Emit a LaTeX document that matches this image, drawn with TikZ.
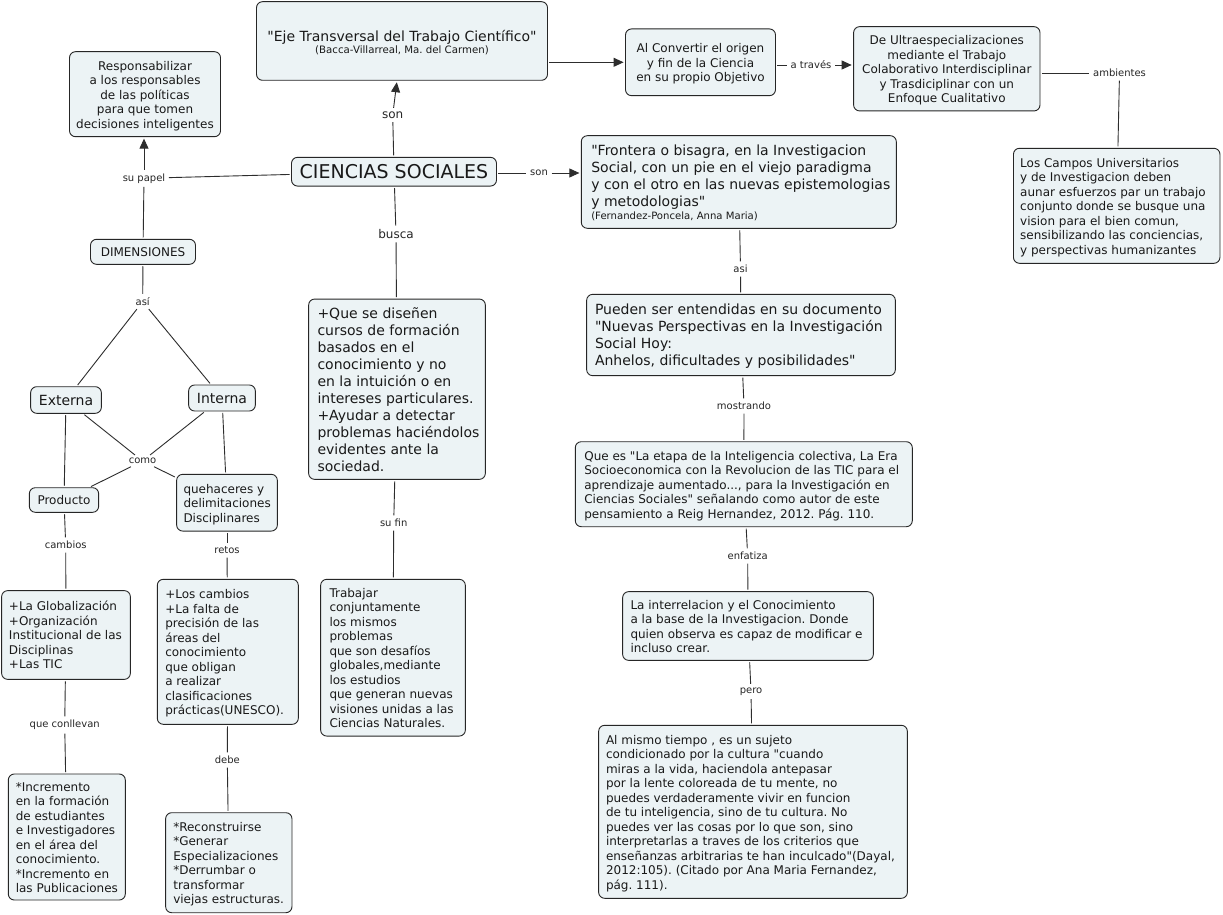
\documentclass[tikz,border=0pt]{standalone}
\usepackage{fontspec}
\setmainfont{DejaVu Sans}[Ligatures=TeXOff]
\frenchspacing
\usetikzlibrary{arrows.meta}
\definecolor{boxfill}{RGB}{236,243,245}
\definecolor{linec}{RGB}{45,45,45}
\newcommand{\ltab}[2]{\raisebox{-2pt}[\height][\depth]{\makebox[#1][l]{\begin{tabular}{@{}l@{}}#2\end{tabular}}}}
\newcommand{\ctab}[1]{\raisebox{-2pt}[\height][\depth]{\begin{tabular}{@{}c@{}}#1\end{tabular}}}
\tikzset{
  cbox/.style={draw=black!85, line width=0.9pt, rounded corners=6pt, fill=boxfill,
    inner xsep=0pt, inner ysep=0pt, text=black!90},
  fs/.style={font=\fontsize{12}{14.5}\selectfont},
  fb/.style={font=\fontsize{14}{17}\selectfont},
  lbl/.style={font=\fontsize{10}{12}\selectfont, inner sep=2pt, text=black!85},
  lblb/.style={font=\fontsize{12}{14}\selectfont, inner sep=2pt, text=black!85},
  conn/.style={draw=linec, line width=0.9pt, shorten <=1.5pt, shorten >=1.5pt},
  arr/.style={conn, -{Triangle[length=10pt,width=9pt]}},
}
\begin{document}
\begin{tikzpicture}[x=1pt,y=-1pt]
\fill[white] (0,0) rectangle (1223,915);
\useasboundingbox (0,0) rectangle (1223,915);

% ---------- boxes ----------
\node[cbox, fb, minimum width=291pt, minimum height=78.6pt] (eje) at (402,41)
  {\raisebox{-1pt}[\height][\depth]{\ctab{"Eje Transversal del Trabajo Científico"\\[-4.5pt]{\fontsize{10.2}{12}\selectfont (Bacca-Villarreal, Ma. del Carmen)}}}};
\node[cbox, fs, minimum width=151pt, minimum height=85pt] (resp) at (145,94.2)
  {\ctab{Responsabilizar\\a los responsables\\de las políticas\\para que tomen\\decisiones inteligentes}};
\node[cbox, font=\fontsize{19}{22}\selectfont, minimum width=205pt, minimum height=28.7pt] (cs) at (394,171.7)
  {CIENCIAS SOCIALES};
\node[cbox, fs, minimum width=105pt, minimum height=25pt] (dim) at (143,251.8) {DIMENSIONES};
\node[cbox, fs, minimum width=150pt, minimum height=66.7pt] (alconv) at (700.5,62.3)
  {\ctab{Al Convertir el origen\\y fin de la Ciencia\\en su propio Objetivo}};
\node[cbox, fs, minimum width=186.4pt, minimum height=84.3pt] (ultra) at (946.8,68.8)
  {\ctab{De Ultraespecializaciones\\mediante el Trabajo\\Colaborativo Interdisciplinar\\y Trasdiciplinar con un\\Enfoque Cualitativo}};
\node[cbox, fb, minimum width=315pt, minimum height=92.6pt] (frontera) at (738.8,182)
  {\ltab{295pt}{"Frontera o bisagra, en la Investigacion\\Social, con un pie en el viejo paradigma\\y con el otro en las nuevas epistemologias\\y metodologias"\\[-3.5pt]{\fontsize{10.1}{12}\selectfont (Fernandez-Poncela, Anna Maria)}}};
\node[cbox, fs, minimum width=206.5pt, minimum height=115pt] (campos) at (1116.7,205.8)
  {\ltab{193pt}{Los Campos Universitarios\\y de Investigacion deben\\aunar esfuerzos par un trabajo\\conjunto donde se busque una\\vision para el bien comun,\\sensibilizando las conciencias,\\y perspectivas humanizantes}};
\node[cbox, fb, minimum width=308.7pt, minimum height=81.3pt] (pueden) at (741,335)
  {\ltab{292pt}{Pueden ser entendidas en su documento\\"Nuevas Perspectivas en la Investigación\\Social Hoy:\\Anhelos, dificultades y posibilidades"}};
\node[cbox, fb, minimum width=70.7pt, minimum height=26.6pt] (externa) at (66,400) {Externa};
\node[cbox, fb, minimum width=66.7pt, minimum height=26pt] (interna) at (222,398) {Interna};
\node[cbox, fb, minimum width=176.7pt, minimum height=180.3pt] (quese) at (397,389.2)
  {\ltab{159pt}{+Que se diseñen\\cursos de formación\\basados en el\\conocimiento y no\\en la intuición o en\\intereses particulares.\\+Ayudar a detectar\\problemas haciéndolos\\evidentes ante la\\sociedad.}};
\node[cbox, fs, minimum width=69.3pt, minimum height=24.6pt] (producto) at (64,500) {Producto};
\node[cbox, fs, minimum width=100.7pt, minimum height=56.7pt] (quehac) at (227,502.7)
  {\ltab{87pt}{quehaceres y\\delimitaciones\\Disciplinares}};
\node[cbox, fs, minimum width=337pt, minimum height=85pt] (quees) at (743.8,484.2)
  {\ltab{319pt}{Que es "La etapa de la Inteligencia colectiva, La Era\\Socioeconomica con la Revolucion de las TIC para el\\aprendizaje aumentado..., para la Investigación en\\Ciencias Sociales" señalando como autor de este\\pensamiento a Reig Hernandez, 2012. Pág. 110.}};
\node[cbox, fs, minimum width=128.7pt, minimum height=88.7pt] (glob) at (66,635)
  {\ltab{114pt}{+La Globalización\\+Organización\\Institucional de las\\Disciplinas\\+Las TIC}};
\node[cbox, fs, minimum width=141pt, minimum height=145pt] (loscamb) at (227.8,651.8)
  {\ltab{125pt}{+Los cambios\\+La falta de\\precisión de las\\áreas del\\conocimiento\\que obligan\\a realizar\\clasificaciones\\prácticas(UNESCO).}};
\node[cbox, fs, minimum width=144.7pt, minimum height=156.7pt] (trabajar) at (393,657.7)
  {\ltab{127pt}{Trabajar\\conjuntamente\\los mismos\\problemas\\que son desafíos\\globales,mediante\\los estudios\\que generan nuevas\\visiones unidas a las\\Ciencias Naturales.}};
\node[cbox, fs, minimum width=250.7pt, minimum height=68.7pt] (interrel) at (748,626)
  {\ltab{235pt}{La interrelacion y el Conocimiento\\a la base de la Investigacion. Donde\\quien observa es capaz de modificar e\\incluso crear.}};
\node[cbox, fs, minimum width=117pt, minimum height=126pt] (increm) at (66.8,837)
  {\ltab{102pt}{*Incremento\\{}en la formación\\de estudiantes\\e Investigadores\\en el área del\\conocimiento.\\{}*Incremento en\\las Publicaciones}};
\node[cbox, fs, minimum width=126.3pt, minimum height=100pt] (reconst) at (228.8,862.7)
  {\ltab{111pt}{*Reconstruirse\\{}*Generar\\Especializaciones\\{}*Derrumbar o\\transformar\\viejas estructuras.}};
\node[cbox, fs, minimum width=308.7pt, minimum height=173pt] (almismo) at (753,811.8)
  {\ltab{294pt}{Al mismo tiempo , es un sujeto\\condicionado por la cultura "cuando\\miras a la vida, haciendola antepasar\\por la lente coloreada de tu mente, no\\puedes verdaderamente vivir en funcion\\de tu inteligencia, sino de tu cultura. No\\puedes ver las cosas por lo que son, sino\\interpretarlas a traves de los criterios que\\enseñanzas arbitrarias te han inculcado"(Dayal,\\2012:105). (Citado por Ana Maria Fernandez,\\pág. 111).}};

% ---------- labels ----------
\node[lblb] (son1) at (392.7,115) {son};
\node[lbl] (supapel) at (144,178.3) {su papel};
\node[lbl] (son2) at (539,173) {son};
\node[lblb] (busca) at (396,234) {busca};
\node[lbl] (atraves) at (811,65) {a través};
\node[lbl] (ambientes) at (1119.5,73) {ambientes};
\node[lbl] (asi1) at (740.5,269) {asi};
\node[lbl] (mostrando) at (744,406) {mostrando};
\node[lbl] (enfatiza) at (747.7,556) {enfatiza};
\node[lbl] (pero) at (751,691.5) {pero};
\node[lbl] (asi2) at (142.7,301.7) {así};
\node[lbl] (como) at (142.5,461) {como};
\node[lbl] (cambios) at (65.7,545) {cambios};
\node[lbl] (retos) at (227,550.3) {retos};
\node[lbl] (sufin) at (393.7,523) {su fin};
\node[lbl] (conllevan) at (64.7,725) {que conllevan};
\node[lbl] (debe) at (227.3,760) {debe};

% ---------- connectors ----------
\draw[conn] (cs) -- (son1);
\draw[arr] (son1) -- (eje);
\draw[conn] (cs) -- (supapel);
\draw[arr] (supapel) -- (supapel |- resp.south);
\draw[conn] (dim) -- (supapel);
\draw[conn] (cs.east |- son2) -- (son2);
\draw[arr] (son2) -- (frontera.west |- son2);
\draw[conn] (cs) -- (busca);
\draw[conn] (busca) -- (quese);
\draw[arr] (eje.east |- alconv.west) -- (alconv.west);
\draw[conn] (alconv.east |- atraves) -- (atraves);
\draw[arr] (atraves) -- (ultra.west |- atraves);
\draw[conn] (ultra.east |- ambientes) -- (ambientes);
\draw[conn] (ambientes) -- (campos);
\draw[conn] (frontera) -- (asi1);
\draw[conn] (asi1) -- (pueden);
\draw[conn] (pueden) -- (mostrando);
\draw[conn] (mostrando) -- (quees);
\draw[conn] (quees) -- (enfatiza);
\draw[conn] (enfatiza) -- (interrel);
\draw[conn] (interrel) -- (pero);
\draw[conn] (pero) -- (almismo);
\draw[conn] (dim) -- (asi2);
\draw[conn] (asi2) -- (externa);
\draw[conn] (asi2) -- (interna);
\draw[conn] (externa) -- (como);
\draw[conn] (interna) -- (como);
\draw[conn] (como) -- (producto);
\draw[conn] (como) -- (quehac);
\draw[conn] (externa) -- (producto);
\draw[conn] (interna) -- (quehac);
\draw[conn] (producto) -- (cambios);
\draw[conn] (cambios) -- (glob);
\draw[conn] (quehac) -- (retos);
\draw[conn] (retos) -- (loscamb);
\draw[conn] (quese) -- (sufin);
\draw[conn] (sufin) -- (trabajar);
\draw[conn] (glob) -- (conllevan);
\draw[conn] (conllevan) -- (increm);
\draw[conn] (loscamb) -- (debe);
\draw[conn] (debe) -- (reconst);
\end{tikzpicture}
\end{document}
